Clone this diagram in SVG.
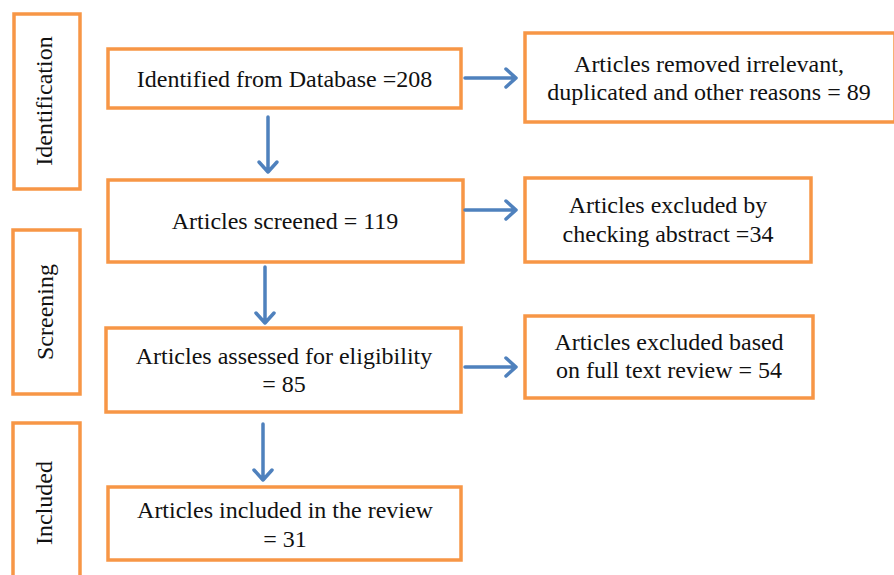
<svg xmlns="http://www.w3.org/2000/svg" width="894" height="575" viewBox="0 0 894 575">
<defs>
<style>
.box{fill:#fff;stroke:#F79646;stroke-width:3.5}
.t{font-family:"Liberation Serif","Times New Roman",serif;font-size:24px;fill:#111;text-anchor:middle}
.c{stroke:#4F81BD;stroke-width:3.5;fill:none;stroke-linecap:round;stroke-linejoin:round}
</style>
</defs>
<rect width="894" height="575" fill="#fff"/>
<g id="stage-identification"><rect class="box" x="14" y="14" width="66" height="175"/><text class="t" transform="translate(52,101) rotate(-90)">Identification</text></g>
<g id="stage-screening"><rect class="box" x="13" y="230" width="67" height="164"/><text class="t" transform="translate(53,312) rotate(-90)">Screening</text></g>
<g id="stage-included"><rect class="box" x="13" y="423" width="67" height="160"/><text class="t" transform="translate(52,503) rotate(-90)">Included</text></g>
<g id="identified"><rect class="box" x="108" y="49" width="353" height="59"/><text class="t" x="284.5" y="87">Identified from Database =208</text></g>
<g id="screened"><rect class="box" x="108" y="180" width="355" height="82"/><text class="t" x="285" y="229">Articles screened = 119</text></g>
<g id="assessed"><rect class="box" x="106" y="328" width="355" height="84"/><text class="t" x="284" y="364">Articles assessed for eligibility</text><text class="t" x="284" y="392">= 85</text></g>
<g id="included"><rect class="box" x="108" y="487" width="353" height="73"/><text class="t" x="285" y="518">Articles included in the review</text><text class="t" x="285" y="547">= 31</text></g>
<g id="removed"><rect class="box" x="525" y="33" width="370" height="89"/><text class="t" x="709" y="72">Articles removed irrelevant,</text><text class="t" x="709" y="100">duplicated and other reasons = 89</text></g>
<g id="excluded-abstract"><rect class="box" x="525" y="178" width="286" height="84"/><text class="t" x="668" y="213">Articles excluded by</text><text class="t" x="668" y="242">checking abstract =34</text></g>
<g id="excluded-fulltext"><rect class="box" x="525" y="316" width="288" height="82"/><text class="t" x="669" y="350">Articles excluded based</text><text class="t" x="669" y="378">on full text review = 54</text></g>
<g id="connectors">
<path class="c" d="M268,117 V172 M259,162 L268,172 L277,162"/>
<path class="c" d="M265,267 V323 M256,313 L265,323 L274,313"/>
<path class="c" d="M263,424 V480 M254,470 L263,480 L272,470"/>
<path class="c" d="M465,78 H516 M506,69 L516,78 L506,87"/>
<path class="c" d="M465,210 H516 M506,201 L516,210 L506,219"/>
<path class="c" d="M465,367 H516 M506,358 L516,367 L506,376"/>
</g>
</svg>
